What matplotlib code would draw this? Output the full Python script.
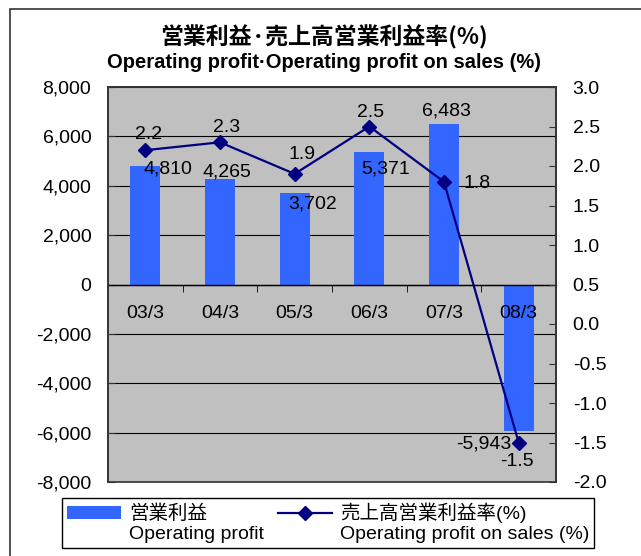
import matplotlib
matplotlib.use("Agg")
import matplotlib.pyplot as plt
from matplotlib.patches import Patch, Rectangle
from matplotlib.lines import Line2D
from matplotlib.ticker import FuncFormatter, FixedLocator, NullFormatter
from matplotlib.font_manager import FontProperties

# ---- data ----
categories = ["03/3", "04/3", "05/3", "06/3", "07/3", "08/3"]
operating_profit = [4810, 4265, 3702, 5371, 6483, -5943]
profit_on_sales = [2.2, 2.3, 1.9, 2.5, 1.8, -1.5]
left_ticks = [-8000, -6000, -4000, -2000, 0, 2000, 4000, 6000, 8000]
right_ticks = [-2.0, -1.5, -1.0, -0.5, 0.0, 0.5, 1.0, 1.5, 2.0, 2.5, 3.0]

title_jp = "営業利益·売上高営業利益率(%)"
title_en = "Operating profit·Operating profit on sales (%)"
legend_labels = ["営業利益", "Operating profit",
                 "売上高営業利益率(%)", "Operating profit on sales (%)"]

# label offsets (points) for data labels
bar_label_offsets = [(16, -2), (5, 5), (13, -8), (12, -12), (2, 10), (-25, -9)]
line_label_offsets = [(2, 11), (5, 11), (5, 14), (1, 10), (24, -1), (-1, -14)]

BAR_C = "#3366FF"
LINE_C = "#000080"
BG = "#C0C0C0"
FONT = ["Liberation Sans", "Noto Sans CJK JP"]

plt.rcParams["font.family"] = FONT
plt.rcParams["font.size"] = 14

W, H = 641, 556
fig = plt.figure(figsize=(W / 100, H / 100), dpi=100)

# outer chart border (left & top visible)
fig.patches.append(Rectangle((10 / W, -0.1), 2, 1 - 9 / H + 0.1, transform=fig.transFigure,
                             fill=False, edgecolor="#333333", lw=1.2))

ax = fig.add_axes([108 / W, 1 - 482 / H, 448 / W, 395 / H])
ax.set_facecolor(BG)
x = list(range(len(categories)))
ax.bar(x, operating_profit, width=0.4, color=BAR_C, zorder=2)
ax.set_xlim(-0.5, len(categories) - 0.5)
ax.set_ylim(-8000, 8000)
ax.yaxis.set_major_locator(FixedLocator(left_ticks))
ax.yaxis.set_major_formatter(FuncFormatter(lambda v, p: f"{v:,.0f}"))
ax.grid(axis="y", color="black", lw=0.8, zorder=1)
ax.tick_params(axis="y", direction="in", length=5, pad=12, labelsize=14, color="#333333")

# category axis at zero
ax.spines["bottom"].set_position(("data", 0))
ax.spines["bottom"].set_color("black")
ax.spines["bottom"].set_linewidth(1.0)
ax.set_xticks(x)
ax.xaxis.set_major_formatter(NullFormatter())
ax.set_xticks([i + 0.5 for i in x[:-1]], minor=True)
ax.tick_params(axis="x", which="major", length=0)
ax.tick_params(axis="x", which="minor", direction="out", length=5, color="black")
for s in ["left", "right", "top"]:
    ax.spines[s].set_color("#333333")
    ax.spines[s].set_linewidth(1.2)
ax.add_patch(Rectangle((0, 0), 1, 1, transform=ax.transAxes, fill=False,
                       edgecolor="#333333", lw=1.2, clip_on=False, zorder=5))

for xi, c in zip(x, categories):
    ax.annotate(c, (xi, 0), xytext=(0, -21), textcoords="offset points",
                ha="center", va="center", fontsize=14, zorder=6)

for xi, v, (dx, dy) in zip(x, operating_profit, bar_label_offsets):
    ax.annotate(f"{v:,}", (xi, v), xytext=(dx, dy), textcoords="offset points",
                ha="center", va="center", fontsize=14, zorder=6)

ax2 = ax.twinx()
ax2.set_ylim(-2.0, 3.0)
ax2.yaxis.set_major_locator(FixedLocator(right_ticks))
ax2.yaxis.set_major_formatter(FuncFormatter(lambda v, p: f"{v:.1f}".replace("−", "-")))
ax2.tick_params(axis="y", direction="in", length=5, pad=12, labelsize=14, color="#333333")
for s in ["left", "right", "top", "bottom"]:
    ax2.spines[s].set_visible(False)
ax2.plot(x, profit_on_sales, color=LINE_C, lw=1.6, marker="D", markersize=7, zorder=4)
for xi, v, (dx, dy) in zip(x, profit_on_sales, line_label_offsets):
    ax2.annotate(f"{v:.1f}", (xi, v), xytext=(dx, dy), textcoords="offset points",
                 ha="center", va="center", fontsize=14, zorder=6)

# titles
fig.text(324 / W, 1 - 37 / H, title_jp, ha="center", va="center",
         family=["Noto Sans CJK JP"], fontweight="bold", fontsize=16.5)
fig.text(324 / W, 1 - 63 / H, title_en, ha="center", va="center",
         family=["Liberation Sans"], fontweight="bold", fontsize=14.5)

# legend
bar_h = Patch(facecolor=BAR_C, edgecolor="none")
line_h = Line2D([], [], color=LINE_C, marker="D", markersize=7, lw=1.6)
empty = Patch(facecolor="none", edgecolor="none")
leg = fig.legend([bar_h, empty, line_h, empty], legend_labels, ncol=2,
                 loc="upper left", bbox_to_anchor=(62 / W, 1 - 498 / H),
                 frameon=True, fancybox=False, edgecolor="black", framealpha=1,
                 prop=FontProperties(family=FONT, size=14),
                 handlelength=2.8, handletextpad=0.4, columnspacing=0.7,
                 labelspacing=0.1, borderpad=0.25, borderaxespad=0)
leg.get_frame().set_linewidth(1.0)

fig.savefig("out.png", dpi=100)
